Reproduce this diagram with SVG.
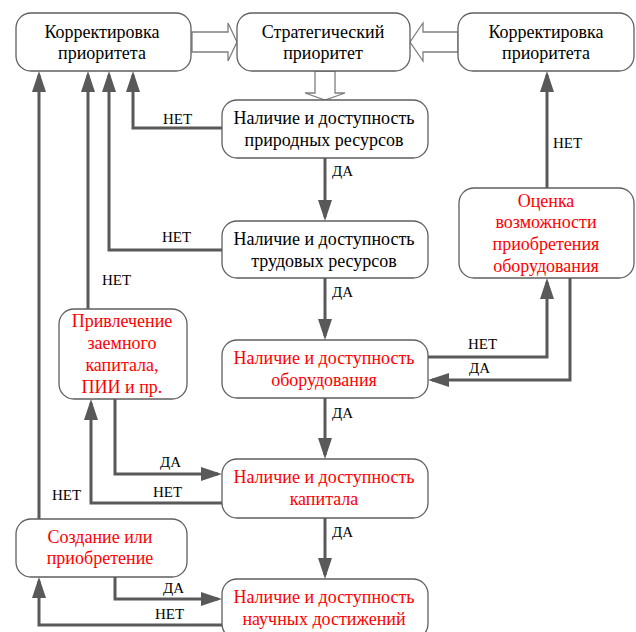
<svg xmlns="http://www.w3.org/2000/svg" width="636" height="632" viewBox="0 0 636 632">
<defs>
<style>
.box{fill:#fff;stroke:#5f5f5f;stroke-width:1.3}
.t{font-family:"Liberation Serif","Times New Roman",serif;font-size:18px;fill:#000;text-anchor:middle}
.r{fill:#ff0000}
.lbl{font-family:"Liberation Serif","Times New Roman",serif;font-size:15px;fill:#000}
.c{fill:none;stroke:#595959;stroke-width:3}
.h{fill:#fff;stroke:#7f7f7f;stroke-width:1.3}
</style>
<marker id="ah" markerUnits="userSpaceOnUse" markerWidth="21" markerHeight="14" refX="17" refY="7" orient="auto">
<path d="M0,0 L21,7 L0,14 z" fill="#595959"/>
</marker>
</defs>
<rect width="636" height="632" fill="#fff"/>

<g id="connectors">
<polygon class="h" points="192,32 228,32 228,23 237,42 228,61 228,52 192,52"/>
<polygon class="h" points="458,32 423,32 423,23 410,42 423,61 423,52 458,52"/>
<polygon class="h" points="315,71 315,93 305,93 325,100 345,93 335,93 335,71"/>
<path class="c" d="M222,128 H133 V75" marker-end="url(#ah)"/>
<path class="c" d="M222,250 H109 V75" marker-end="url(#ah)"/>
<path class="c" d="M88,309 V75" marker-end="url(#ah)"/>
<path class="c" d="M39,519 V75" marker-end="url(#ah)"/>
<path class="c" d="M325,158 V217" marker-end="url(#ah)"/>
<path class="c" d="M325,278 V336" marker-end="url(#ah)"/>
<path class="c" d="M325,398 V455" marker-end="url(#ah)"/>
<path class="c" d="M325,518 V575" marker-end="url(#ah)"/>
<path class="c" d="M428,357 H547 V282" marker-end="url(#ah)"/>
<path class="c" d="M570,278 V380 H432" marker-end="url(#ah)"/>
<path class="c" d="M547,188 V75" marker-end="url(#ah)"/>
<path class="c" d="M115,399 V474 H218" marker-end="url(#ah)"/>
<path class="c" d="M222,503 H91 V403" marker-end="url(#ah)"/>
<path class="c" d="M115,577 V599 H218" marker-end="url(#ah)"/>
<path class="c" d="M222,625 H39 V581" marker-end="url(#ah)"/>
<text class="lbl" x="163" y="124">НЕТ</text>
<text class="lbl" x="332" y="176">ДА</text>
<text class="lbl" x="162" y="242">НЕТ</text>
<text class="lbl" x="102" y="285">НЕТ</text>
<text class="lbl" x="332" y="297">ДА</text>
<text class="lbl" x="468" y="349">НЕТ</text>
<text class="lbl" x="469" y="373">ДА</text>
<text class="lbl" x="553" y="148">НЕТ</text>
<text class="lbl" x="332" y="418">ДА</text>
<text class="lbl" x="160" y="467">ДА</text>
<text class="lbl" x="153" y="497">НЕТ</text>
<text class="lbl" x="52" y="500">НЕТ</text>
<text class="lbl" x="332" y="537">ДА</text>
<text class="lbl" x="163" y="593">ДА</text>
<text class="lbl" x="155" y="619">НЕТ</text>
</g>

<g id="korr-left">
<rect class="box" x="16" y="13" width="175" height="58" rx="15"/>
<text class="t" x="102" y="38">Корректировка</text>
<text class="t" x="102" y="59">приоритета</text>
</g>
<g id="strateg">
<rect class="box" x="237" y="13" width="173" height="58" rx="15"/>
<text class="t" x="323" y="38">Стратегический</text>
<text class="t" x="323" y="59">приоритет</text>
</g>
<g id="korr-right">
<rect class="box" x="458" y="13" width="176" height="58" rx="15"/>
<text class="t" x="546" y="38">Корректировка</text>
<text class="t" x="546" y="59">приоритета</text>
</g>
<g id="prirodnye">
<rect class="box" x="222" y="100" width="206" height="58" rx="15"/>
<text class="t" x="324" y="124">Наличие и доступность</text>
<text class="t" x="324" y="146">природных ресурсов</text>
</g>
<g id="trudovye">
<rect class="box" x="222" y="221" width="206" height="57" rx="15"/>
<text class="t" x="324" y="245">Наличие и доступность</text>
<text class="t" x="324" y="267">трудовых ресурсов</text>
</g>
<g id="oborudovanie">
<rect class="box" x="222" y="340" width="206" height="58" rx="15"/>
<text class="t r" x="324" y="364">Наличие и доступность</text>
<text class="t r" x="324" y="386">оборудования</text>
</g>
<g id="kapital">
<rect class="box" x="222" y="459" width="206" height="59" rx="15"/>
<text class="t r" x="324" y="483">Наличие и доступность</text>
<text class="t r" x="324" y="505">капитала</text>
</g>
<g id="nauka">
<rect class="box" x="222" y="579" width="206" height="60" rx="15"/>
<text class="t r" x="324" y="603">Наличие и доступность</text>
<text class="t r" x="324" y="625">научных достижений</text>
</g>
<g id="ocenka">
<rect class="box" x="459" y="188" width="175" height="90" rx="15"/>
<text class="t r" x="546" y="207">Оценка</text>
<text class="t r" x="546" y="228">возможности</text>
<text class="t r" x="546" y="250">приобретения</text>
<text class="t r" x="546" y="272">оборудования</text>
</g>
<g id="privlechenie">
<rect class="box" x="59" y="309" width="128" height="90" rx="15"/>
<text class="t r" x="122" y="327">Привлечение</text>
<text class="t r" x="122" y="349">заемного</text>
<text class="t r" x="122" y="371">капитала,</text>
<text class="t r" x="122" y="393">ПИИ и пр.</text>
</g>
<g id="sozdanie">
<rect class="box" x="16" y="519" width="171" height="58" rx="15"/>
<text class="t r" x="100" y="543">Создание или</text>
<text class="t r" x="100" y="564">приобретение</text>
</g>
</svg>
